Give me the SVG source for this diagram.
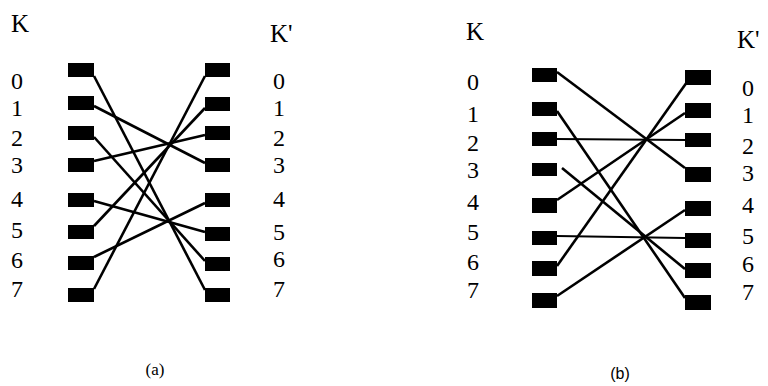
<svg xmlns="http://www.w3.org/2000/svg" width="768" height="386" viewBox="0 0 768 386">
<style>
.bg{fill:#fff}
.box{fill:#000}
.ln{stroke:#000;stroke-width:2.6;fill:none;stroke-linecap:butt}
.hl{stroke:#000;stroke-width:2;fill:none}
.ser{font-family:"Liberation Serif","Tinos","Nimbus Roman","Nimbus Roman No9 L","Times New Roman","Times","FreeSerif","Noto Serif","DejaVu Serif",serif}
.t{font-size:24px;fill:#000}
.k{font-size:25px;fill:#000}
.cap{font-size:17px;fill:#000}
.capb{font-family:"Liberation Sans","DejaVu Sans",Arial,sans-serif;font-size:16px;fill:#000}
</style>
<rect class="bg" x="0" y="0" width="768" height="386"/>
<g id="connectors">
  <line class="ln" x1="94" y1="76" x2="205" y2="290"/>
  <line class="ln" x1="94" y1="106" x2="205" y2="163"/>
  <line class="ln" x1="94" y1="137" x2="205" y2="261"/>
  <line class="ln" x1="94" y1="161" x2="205" y2="135"/>
  <line class="ln" x1="94" y1="201" x2="205" y2="232"/>
  <line class="ln" x1="94" y1="226" x2="205" y2="108"/>
  <line class="ln" x1="94" y1="257" x2="205" y2="203"/>
  <line class="ln" x1="94" y1="289" x2="205" y2="76"/>
  <line class="ln" x1="557" y1="72" x2="685" y2="168"/>
  <line class="ln" x1="557" y1="111" x2="685" y2="298"/>
  <line class="hl" x1="557" y1="139" x2="685" y2="140"/>
  <line class="ln" x1="562" y1="168" x2="685" y2="269"/>
  <line class="ln" x1="557" y1="200" x2="685" y2="113"/>
  <line class="hl" x1="557" y1="236" x2="685" y2="238"/>
  <line class="ln" x1="557" y1="266" x2="687" y2="82"/>
  <line class="ln" x1="557" y1="296" x2="685" y2="210"/>
</g>
<g id="a-left">
  <g id="a-k0"><rect class="box" x="68" y="63" width="26" height="14"/></g>
  <g id="a-k1"><rect class="box" x="68" y="96" width="26" height="14"/></g>
  <g id="a-k2"><rect class="box" x="68" y="126" width="26" height="14"/></g>
  <g id="a-k3"><rect class="box" x="68" y="158" width="26" height="14"/></g>
  <g id="a-k4"><rect class="box" x="68" y="193" width="26" height="14"/></g>
  <g id="a-k5"><rect class="box" x="68" y="225" width="26" height="14"/></g>
  <g id="a-k6"><rect class="box" x="68" y="256" width="26" height="14"/></g>
  <g id="a-k7"><rect class="box" x="68" y="288" width="26" height="14"/></g>
</g>
<g id="a-right">
  <g id="a-r0"><rect class="box" x="205" y="63" width="25" height="14"/></g>
  <g id="a-r1"><rect class="box" x="205" y="97" width="25" height="14"/></g>
  <g id="a-r2"><rect class="box" x="205" y="126" width="25" height="14"/></g>
  <g id="a-r3"><rect class="box" x="205" y="158" width="25" height="14"/></g>
  <g id="a-r4"><rect class="box" x="205" y="193" width="25" height="14"/></g>
  <g id="a-r5"><rect class="box" x="205" y="227" width="25" height="14"/></g>
  <g id="a-r6"><rect class="box" x="205" y="257" width="25" height="14"/></g>
  <g id="a-r7"><rect class="box" x="205" y="288" width="25" height="14"/></g>
</g>
<g id="b-left">
  <g id="b-k0"><rect class="box" x="532" y="68" width="25" height="14"/></g>
  <g id="b-k1"><rect class="box" x="532" y="102" width="25" height="14"/></g>
  <g id="b-k2"><rect class="box" x="532" y="132" width="25" height="14"/></g>
  <g id="b-k3"><rect class="box" x="532" y="163" width="25" height="13"/></g>
  <g id="b-k4"><rect class="box" x="532" y="198" width="25" height="15"/></g>
  <g id="b-k5"><rect class="box" x="532" y="231" width="25" height="14"/></g>
  <g id="b-k6"><rect class="box" x="532" y="261" width="25" height="15"/></g>
  <g id="b-k7"><rect class="box" x="532" y="293" width="25" height="15"/></g>
</g>
<g id="b-right">
  <g id="b-r0"><rect class="box" x="685" y="70" width="26" height="15"/></g>
  <g id="b-r1"><rect class="box" x="685" y="103" width="26" height="15"/></g>
  <g id="b-r2"><rect class="box" x="685" y="133" width="26" height="14"/></g>
  <g id="b-r3"><rect class="box" x="685" y="167" width="26" height="15"/></g>
  <g id="b-r4"><rect class="box" x="685" y="201" width="26" height="15"/></g>
  <g id="b-r5"><rect class="box" x="685" y="233" width="26" height="15"/></g>
  <g id="b-r6"><rect class="box" x="685" y="263" width="26" height="15"/></g>
  <g id="b-r7"><rect class="box" x="685" y="295" width="26" height="15"/></g>
</g>
<g id="a-labels" class="ser">
  <text class="k" x="11" y="32">K</text>
  <text class="k" x="270" y="42">K'</text>
  <g id="a-left-digits">
    <text class="t" x="11" y="89">0</text>
    <text class="t" x="11" y="116">1</text>
    <text class="t" x="11" y="146">2</text>
    <text class="t" x="11" y="173">3</text>
    <text class="t" x="11" y="207">4</text>
    <text class="t" x="11" y="238">5</text>
    <text class="t" x="11" y="268">6</text>
    <text class="t" x="11" y="297">7</text>
  </g>
  <g id="a-right-digits">
    <text class="t" x="273" y="89">0</text>
    <text class="t" x="273" y="116">1</text>
    <text class="t" x="273" y="146">2</text>
    <text class="t" x="273" y="173">3</text>
    <text class="t" x="273" y="207">4</text>
    <text class="t" x="273" y="240">5</text>
    <text class="t" x="273" y="267">6</text>
    <text class="t" x="273" y="297">7</text>
  </g>
  <text class="cap" x="155" y="375" text-anchor="middle">(a)</text>
</g>
<g id="b-labels" class="ser">
  <text class="k" x="466" y="40">K</text>
  <text class="k" x="737" y="48">K'</text>
  <g id="b-left-digits">
    <text class="t" x="467" y="90">0</text>
    <text class="t" x="467" y="122">1</text>
    <text class="t" x="467" y="151">2</text>
    <text class="t" x="467" y="178">3</text>
    <text class="t" x="467" y="210">4</text>
    <text class="t" x="467" y="240">5</text>
    <text class="t" x="467" y="270">6</text>
    <text class="t" x="467" y="298">7</text>
  </g>
  <g id="b-right-digits">
    <text class="t" x="742" y="96">0</text>
    <text class="t" x="742" y="123">1</text>
    <text class="t" x="742" y="154">2</text>
    <text class="t" x="742" y="181">3</text>
    <text class="t" x="742" y="213">4</text>
    <text class="t" x="742" y="244">5</text>
    <text class="t" x="742" y="272">6</text>
    <text class="t" x="742" y="300">7</text>
  </g>
  <text class="capb" x="620" y="379" text-anchor="middle">(b)</text>
</g>
</svg>
